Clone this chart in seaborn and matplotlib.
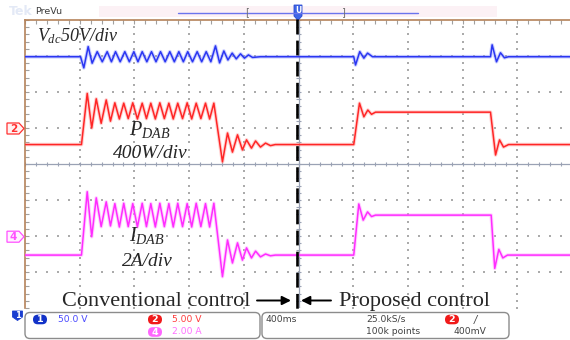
import numpy as np
import pandas as pd
import matplotlib
matplotlib.use('Agg')
import matplotlib.pyplot as plt
import seaborn as sns
from matplotlib.patches import FancyBboxPatch, Polygon, Rectangle

# ---------------- data (time in ms, 400 ms/div; values in screen divisions) ----------------
blue_t = [-2000, -1594, -1570, -1538, -1509,
          -1472, -1435, -1399, -1368, -1338, -1304, -1270, -1237, -1204, -1174, -1143, -1109, -1075,
          -1042, -1009, -975, -941, -908, -875, -842, -810, -775, -741, -708, -675, -641,
          -607, -577, -546, -516, -485, -455, -424, -395, -366, -336, -278,
          404, 417, 448, 478, 505, 541,
          1404, 1416, 1448, 1477, 1506, 1536, 2000]
blue_v = [2.98, 2.98, 2.67, 3.26, 2.80,
          3.12, 2.84, 3.12, 2.84, 3.12, 2.84, 3.12, 2.84, 3.12, 2.84, 3.12, 2.84, 3.12,
          2.84, 3.12, 2.84, 3.12, 2.84, 3.12, 2.84, 3.12, 2.84, 3.12, 2.84, 3.12, 2.84,
          3.28, 2.81, 3.14, 2.89, 3.08, 2.92, 3.06, 2.94, 3.03, 2.96, 2.98,
          2.98, 2.75, 3.12, 2.94, 3.08, 2.98,
          2.98, 3.31, 2.84, 3.09, 2.95, 2.98, 2.98]

red_t = [-2000, -1587,
         -1545, -1512, -1479, -1443, -1406, -1375, -1343, -1310, -1278, -1245, -1212, -1178, -1143,
         -1112, -1080, -1047, -1014, -981, -948, -916, -883, -848, -814, -781, -748, -714, -680, -650, -619,
         -556, -519, -483, -446, -410, -380, -344, -314, -278, -241, -205, -170,
         404, 446, 478, 507, 534, 563,
         1404, 1441, 1470, 1499, 1536, 2000]
red_v = [0.54, 0.54,
         1.96, 1.00, 1.81, 1.13, 1.78, 1.19, 1.70, 1.25, 1.69, 1.26, 1.70, 1.25, 1.69,
         1.26, 1.69, 1.25, 1.70, 1.26, 1.69, 1.25, 1.69, 1.26, 1.70, 1.25, 1.69, 1.26, 1.69, 1.25, 1.69,
         0.06, 0.86, 0.33, 0.81, 0.39, 0.67, 0.44, 0.64, 0.47, 0.58, 0.51, 0.54,
         0.54, 1.69, 1.31, 1.50, 1.38, 1.44,
         1.44, 0.25, 0.67, 0.47, 0.54, 0.54]

mag_t = [-2000, -1587,
         -1545, -1512, -1479, -1443, -1406, -1375, -1343, -1310, -1278, -1245, -1212, -1178, -1143,
         -1112, -1080, -1047, -1014, -981, -948, -916, -883, -848, -814, -781, -748, -714, -680, -650, -619,
         -556, -519, -483, -446, -410, -380, -344, -314, -278, -241, -205, -170,
         404, 441, 473, 505, 534, 563,
         1409, 1435, 1465, 1494, 1528, 2000]
mag_v = [-2.53, -2.53,
         -0.77, -2.02, -0.94, -1.74, -1.05, -1.72, -1.10, -1.75, -1.09, -1.74, -1.10, -1.75, -1.09,
         -1.74, -1.10, -1.75, -1.09, -1.74, -1.10, -1.75, -1.09, -1.74, -1.10, -1.75, -1.09, -1.74, -1.10, -1.75, -1.09,
         -3.13, -2.11, -2.75, -2.19, -2.67, -2.33, -2.61, -2.42, -2.58, -2.50, -2.55, -2.53,
         -2.53, -1.11, -1.56, -1.33, -1.46, -1.42,
         -1.42, -2.90, -2.37, -2.61, -2.53, -2.53]

trace_names = ['Vdc', 'PDAB', 'IDAB']
scale_labels = ['50.0 V', '5.00 V', '2.00 A']
acq_labels = ['400ms', '25.0kS/s', '100k points', '400mV']
region_labels = ['Conventional control', 'Proposed control']

# ---------------- style ----------------
sns.set_style('white')
plt.rcParams['font.family'] = ['DejaVu Sans']
plt.rcParams['mathtext.fontset'] = 'custom'
plt.rcParams['mathtext.it'] = 'Liberation Serif:italic'
plt.rcParams['mathtext.rm'] = 'Liberation Serif'
plt.rcParams['mathtext.bf'] = 'Liberation Serif:bold'

fig = plt.figure(figsize=(5.7, 3.4), dpi=100)
ax = fig.add_axes([25 / 570, 32 / 340, 547 / 570, 288 / 340])
ax.set_xlim(-2000, 2000)
ax.set_ylim(-4, 4)
ax.set_facecolor('white')

# graticule
grid_c = '#ababab'
gx = np.array([-4, -3, -2, -1, 1, 2, 3, 4]) * 400
gys = np.arange(-4, 4.001, 0.2)
X, Y = np.meshgrid(gx, gys)
ax.scatter(X.ravel(), Y.ravel(), s=0.75, c=grid_c, marker='s', linewidths=0, zorder=1)
gy = np.array([-3, -2, -1, 1, 2, 3])
gxs = np.arange(-5, 5.001, 0.2) * 400
X, Y = np.meshgrid(gxs, gy)
ax.scatter(X.ravel(), Y.ravel(), s=0.75, c=grid_c, marker='s', linewidths=0, zorder=1)
cl = '#9aa2b4'
ax.axhline(0, color=cl, lw=0.9, zorder=1)
ax.axvline(0, color=cl, lw=0.9, zorder=1)
ax.vlines(gxs, -0.06, 0.06, color=cl, lw=0.8, zorder=1)
ax.hlines(gys, -16, 16, color=cl, lw=0.8, zorder=1)

ax.set_xticks(np.arange(-2000, 2001, 80))
ax.set_yticks(np.arange(-4, 4.001, 0.2))
ax.tick_params(axis='x', top=True, bottom=False, direction='in', length=3, width=0.8,
               color='#a0a0a0', labeltop=False, labelbottom=False)
ax.tick_params(axis='y', left=True, right=False, direction='in', length=3, width=0.8,
               color='#a0a0a0', labelleft=False)
for s in ['right', 'bottom']:
    ax.spines[s].set_visible(False)
for s in ['top', 'left']:
    ax.spines[s].set_color('#b5835a')
    ax.spines[s].set_linewidth(1.2)

# traces
traces = [(blue_t, blue_v, '#2a36f2', '#8d95ff'),
          (red_t, red_v, '#ff2626', '#ff9a9a'),
          (mag_t, mag_v, '#ff2cff', '#ff9cff')]
for name, (t, v, core, glow) in zip(trace_names, traces):
    df = pd.DataFrame({'t': t, 'v': v, 'trace': name})
    sns.lineplot(data=df, x='t', y='v', ax=ax, color=glow, lw=2.6, alpha=0.45,
                 sort=False, estimator=None, legend=False, zorder=3)
    sns.lineplot(data=df, x='t', y='v', ax=ax, color=core, lw=1.1,
                 sort=False, estimator=None, legend=False, zorder=4)
ax.set_xlabel('')
ax.set_ylabel('')

# ---------------- overlay (pixel coordinates) ----------------
ov = fig.add_axes([0, 0, 1, 1], zorder=5)
ov.set_xlim(0, 570)
ov.set_ylim(340, 0)
ov.axis('off')
ov.patch.set_alpha(0)

# top bar
ov.text(9, 11.5, 'Tek', color='#e3e9f6', fontsize=9, fontweight='bold', va='center')
ov.add_patch(Rectangle((99, 6), 398, 11, color='#fcf1f5', lw=0))
ov.plot([178, 418], [12.5, 12.5], color='#6a74ee', lw=1.0)
ov.text(35, 11.5, 'PreVu', fontsize=6.8, color='#3c3c3c', va='center')
ov.text(247, 12.5, '[', fontsize=7, color='#707070', va='center', ha='center')
ov.text(343, 12.5, ']', fontsize=7, color='#707070', va='center', ha='center')
ov.add_patch(Polygon([(294, 5), (302, 5), (302, 16), (298, 20.5), (294, 16)], closed=True,
                     fc='#3f66e6', ec='#2a4ad0', lw=0.6))
ov.text(298, 10.5, 'U', color='white', fontsize=5.5, ha='center', va='center', fontweight='bold')

# channel markers on the left
def ch_marker(y, label, color, fill):
    ov.add_patch(Polygon([(7, y - 5.5), (19, y - 5.5), (24, y), (19, y + 5.5), (7, y + 5.5)],
                         closed=True, fc=fill, ec=color, lw=0.9, zorder=2))
    ov.text(13.5, y + 0.4, label, color=color, fontsize=7.5, ha='center', va='center',
            fontweight='bold', zorder=3)

ch_marker(128.5, '2', '#ff3030', '#fff2f2')
ch_marker(236.7, '4', '#ff50ff', '#fff2ff')
ov.add_patch(Polygon([(12.5, 311), (22.5, 311), (22.5, 317), (17.5, 320.5), (12.5, 317)],
                     closed=True, fc='#1a3ed0', ec='#1a3ed0', lw=0.6))
ov.text(17.5, 315, '1', color='white', fontsize=6, ha='center', va='center', fontweight='bold')

# separator dashed line and labels
ov.plot([297, 297], [19, 312], color='black', lw=1.9, dashes=(5.6, 2.4))
ov.text(37, 41.5, r'$V_{dc}$50V/div', family='Liberation Serif', style='italic',
        fontsize=13, va='baseline')
ov.text(150, 135.5, r'$P_{DAB}$', fontsize=14.5, ha='center', va='baseline')
ov.text(150.5, 158, '400W/div', family='Liberation Serif', style='italic', fontsize=14,
        ha='center', va='baseline')
ov.text(147, 240.5, r'$I_{DAB}$', fontsize=14.5, ha='center', va='baseline')
ov.text(147, 265.5, '2A/div', family='Liberation Serif', style='italic', fontsize=14,
        ha='center', va='baseline')
ov.text(62, 306, region_labels[0], family='Liberation Serif', fontsize=16, va='baseline')
ov.text(339, 306, region_labels[1], family='Liberation Serif', fontsize=16, va='baseline')
arrow = dict(arrowstyle='-|>', color='black', lw=1.4, mutation_scale=13, shrinkA=0, shrinkB=0)
ov.annotate('', xy=(291, 300.5), xytext=(257, 300.5), arrowprops=arrow)
ov.annotate('', xy=(301, 300.5), xytext=(331, 300.5), arrowprops=arrow)

# status bar
for x0, x1 in [(25, 260), (262, 509)]:
    ov.add_patch(FancyBboxPatch((x0, 312.5), x1 - x0, 26,
                                boxstyle='round,pad=0,rounding_size=5',
                                fc='white', ec='#8c8c8c', lw=1.0))

def pill(x, y, label, fc):
    ov.add_patch(FancyBboxPatch((x - 7, y - 4.8), 14, 9.6,
                                boxstyle='round,pad=0,rounding_size=4.8', fc=fc, ec='none'))
    ov.text(x, y + 0.2, label, color='white', fontsize=6.8, ha='center', va='center',
            fontweight='bold')

r1, r2 = 319.5, 332
pill(40, r1, '1', '#1232c8')
pill(155, r1, '2', '#f01a1a')
pill(155, r2, '4', '#ff66ff')
pill(452, r1, '2', '#f01a1a')
st = dict(fontsize=6.6, va='center')
ov.text(58, r1, scale_labels[0], color='#4848ff', **st)
ov.text(172, r1, scale_labels[1], color='#ff3b3b', **st)
ov.text(172, r2, scale_labels[2], color='#ff70ff', **st)
ov.text(266, r1, acq_labels[0], color='#404040', **st)
ov.text(366, r1, acq_labels[1], color='#404040', **st)
ov.text(366, r2, acq_labels[2], color='#404040', **st)
ov.text(454, r2, acq_labels[3], color='#404040', **st)
ov.text(474, r1, '/', color='#404040', fontsize=7, va='center', style='italic')

fig.savefig('out.png', dpi=100)
